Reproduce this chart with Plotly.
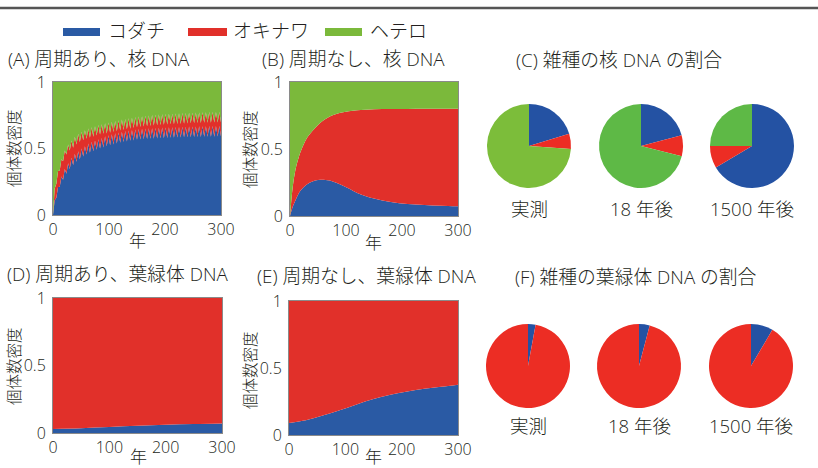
import plotly.graph_objects as go

W, H = 818, 468
FONT = "Open Sans, Noto Sans CJK JP"
TEXT = "#231f20"

# colours
KODACHI = "#2a5aa4"
OKINAWA = "#e1302a"
HETERO = "#7bb93b"
PIE_BLUE = "#2452a3"
PIE_RED = "#ec2d24"
PIE_GREEN_OBS = "#7cbd3a"
PIE_GREEN_SIM = "#5eb946"

SPECIES = ["コダチ", "オキナワ", "ヘテロ"]

# (A) periodic, nuclear DNA (every 3 years)
years_a = list(range(0, 301, 3))
a_kodachi = [
    0, .11, .13, .21, .21, .29, .265, .345, .31, .39,
    .345, .43, .375, .46, .40, .48, .42, .50, .44, .517,
    .455, .537, .468, .55, .48, .561, .49, .57, .50, .579,
    .508, .592, .516, .60, .524, .608, .531, .615, .538, .621,
    .544, .626, .549, .631, .553, .636, .558, .64, .561, .643,
    .565, .646, .567, .648, .569, .65, .571, .652, .573, .653,
    .574, .655, .576, .656, .577, .657, .578, .658, .579, .659,
    .58, .66, .581, .661, .582, .662, .583, .663, .584, .664,
    .585, .665, .585, .665, .586, .666, .586, .667, .587, .667,
    .588, .668, .588, .669, .589, .669, .589, .67, .59, .67,
    .59,
]
a_okinawa = [
    0, .09, .105, .12, .125, .13, .14, .14, .145, .14,
    .14, .13, .13, .128, .13, .13, .128, .125, .122, .121,
    .119, .113, .112, .11, .109, .107, .107, .106, .105, .104,
    .103, .097, .096, .095, .094, .093, .093, .092, .092, .092,
    .091, .092, .091, .091, .092, .091, .091, .091, .093, .094,
    .095, .095, .095, .095, .096, .096, .096, .097, .097, .098,
    .098, .099, .099, .10, .10, .101, .101, .102, .101, .102,
    .102, .102, .102, .102, .102, .103, .102, .103, .103, .103,
    .103, .103, .104, .104, .104, .104, .105, .104, .105, .105,
    .105, .105, .105, .105, .105, .105, .106, .105, .105, .105,
    .105,
]
a_hetero = [
    1, .80, .765, .67, .665, .58, .595, .515, .545, .47,
    .515, .44, .495, .412, .47, .39, .452, .375, .438, .362,
    .426, .35, .42, .34, .411, .332, .403, .324, .395, .317,
    .389, .311, .388, .305, .382, .299, .376, .293, .37, .287,
    .365, .282, .36, .278, .355, .273, .351, .269, .346, .263,
    .34, .259, .338, .257, .335, .254, .333, .251, .33, .249,
    .328, .246, .325, .244, .323, .242, .321, .24, .32, .239,
    .318, .238, .317, .237, .316, .235, .315, .234, .313, .233,
    .312, .232, .311, .231, .31, .23, .309, .229, .308, .228,
    .307, .227, .307, .226, .306, .226, .305, .225, .305, .225,
    .305,
]

# (B) non-periodic, nuclear DNA
years_b = [0, 5, 10, 15, 20, 30, 40, 50, 60, 75, 90, 105, 120, 150, 180, 210, 240, 270, 300]
b_kodachi = [0, .07, .12, .165, .195, .235, .258, .268, .27, .26, .235, .205, .172, .13, .105, .09, .082, .076, .072]
b_okinawa = [0, .15, .23, .265, .295, .345, .377, .412, .445, .49, .535, .577, .617, .666, .693, .709, .718, .724, .728]
b_hetero = [1, .78, .65, .57, .51, .42, .365, .32, .285, .25, .23, .218, .211, .204, .202, .201, .2, .2, .2]

# (D) periodic, chloroplast DNA
years_d = [0, 50, 100, 150, 200, 250, 300]
d_kodachi = [.03, .036, .044, .053, .061, .067, .071]
d_okinawa = [.97, .964, .956, .947, .939, .933, .929]

# (E) non-periodic, chloroplast DNA
years_e = [0, 30, 60, 90, 120, 150, 180, 210, 240, 270, 300]
e_kodachi = [.09, .11, .145, .185, .228, .268, .30, .325, .345, .36, .375]
e_okinawa = [.91, .89, .855, .815, .772, .732, .70, .675, .655, .64, .625]

# (C)/(F) hybrid composition (%), order: コダチ, オキナワ, ヘテロ
pie_captions = ["実測", "18 年後", "1500 年後"]
c_shares = [[20.3, 5.8, 73.9], [20.9, 8.0, 71.1], [66.5, 8.5, 25.0]]
f_shares = [[2.9, 97.1, 0], [4.1, 95.9, 0], [8.5, 91.5, 0]]

x_ticks = [0, 100, 200, 300]
y_ticks = [0, 0.5, 1]
y_ticktext = ["0", "0.5", "1"]

fig = go.Figure()


def add_area(xs, series, colors, xa, ya, group, shape):
    for vals, col in zip(series, colors):
        fig.add_trace(go.Scatter(
            x=xs, y=vals, xaxis=xa, yaxis=ya, stackgroup=group,
            mode="lines", line=dict(width=0, shape=shape),
            fillcolor=col, hoverinfo="skip", showlegend=False))


add_area(years_a, [a_kodachi, a_okinawa, a_hetero], [KODACHI, OKINAWA, HETERO], "x", "y", "a", "linear")
add_area(years_b, [b_kodachi, b_okinawa, b_hetero], [KODACHI, OKINAWA, HETERO], "x2", "y2", "b", "spline")
add_area(years_d, [d_kodachi, d_okinawa], [KODACHI, OKINAWA], "x3", "y3", "d", "spline")
add_area(years_e, [e_kodachi, e_okinawa], [KODACHI, OKINAWA], "x4", "y4", "e", "spline")


def px_x(p):
    return p / W


def px_y(p):
    return 1 - p / H


R = 42
c_centers = [(529, 146), (641, 146), (752, 146)]
f_centers = [(528, 366), (639, 366), (751, 366)]
c_greens = [PIE_GREEN_OBS, PIE_GREEN_SIM, PIE_GREEN_SIM]

for (cx, cy), vals, g in zip(c_centers, c_shares, c_greens):
    fig.add_trace(go.Pie(
        labels=SPECIES, values=vals, sort=False, direction="clockwise", rotation=0,
        marker=dict(colors=[PIE_BLUE, PIE_RED, g], line=dict(width=0)),
        textinfo="none", hoverinfo="skip", showlegend=False, automargin=False,
        domain=dict(x=[px_x(cx - R), px_x(cx + R)], y=[px_y(cy + R), px_y(cy - R)])))
for (cx, cy), vals in zip(f_centers, f_shares):
    fig.add_trace(go.Pie(
        labels=SPECIES, values=vals, sort=False, direction="clockwise", rotation=0,
        marker=dict(colors=[PIE_BLUE, PIE_RED, PIE_GREEN_SIM], line=dict(width=0)),
        textinfo="none", hoverinfo="skip", showlegend=False, automargin=False,
        domain=dict(x=[px_x(cx - R), px_x(cx + R)], y=[px_y(cy + R), px_y(cy - R)])))

# axes boxes in pixels: (left, right, top, bottom)
boxes = {
    "": (53, 221, 82, 215),
    "2": (290, 458, 82, 216),
    "3": (53, 222, 298, 433),
    "4": (289, 458, 301, 435),
}
axis_font = dict(family=FONT, size=16, color=TEXT, weight=300)
layout_axes = {}
for k, (l, r, t, b) in boxes.items():
    layout_axes["xaxis" + k] = dict(
        domain=[px_x(l), px_x(r)], range=[0, 300], anchor="y" + k,
        tickvals=x_ticks, ticks="", showgrid=False, zeroline=False,
        showline=True, mirror=True, linecolor="#8a8a8a", linewidth=1,
        tickfont=axis_font, ticklabelstandoff=0, automargin=False)
    layout_axes["yaxis" + k] = dict(
        domain=[px_y(b), px_y(t)], range=[0, 1], anchor="x" + k,
        tickvals=y_ticks, ticktext=y_ticktext, ticks="", showgrid=False, zeroline=False,
        showline=True, mirror=True, linecolor="#8a8a8a", linewidth=1,
        tickfont=axis_font, ticklabelstandoff=3, automargin=False)

annotations = []


def label(text, x, y, size, xanchor="left", angle=0):
    annotations.append(dict(
        text=text, x=px_x(x), y=px_y(y), xref="paper", yref="paper",
        xanchor=xanchor, yanchor="middle", showarrow=False, textangle=angle,
        font=dict(family=FONT, size=size, color=TEXT, weight=300)))


# panel titles
label("(A) 周期あり、核 DNA", 6, 59, 18.8)
label("(B) 周期なし、核 DNA", 260, 59, 18.8)
label("(C) 雑種の核 DNA の割合", 514, 60, 18.8)
label("(D) 周期あり、葉緑体 DNA", 5, 274, 18.8)
label("(E) 周期なし、葉緑体 DNA", 255, 276, 18.8)
label("(F) 雑種の葉緑体 DNA の割合", 513, 277, 18.8)

# axis titles
for x, y in [(14, 148), (250, 149), (14, 366), (250, 370)]:
    label("個体数密度", x, y, 15.5, xanchor="center", angle=-90)
for x, y in [(137, 241), (373, 242), (138, 456), (373, 456)]:
    label("年", x, y, 17, xanchor="center")

# pie captions
for (cx, _), cap in zip(c_centers, pie_captions):
    label(cap, cx, 208, 18.5, xanchor="center")
for (cx, _), cap in zip(f_centers, pie_captions):
    label(cap, cx, 425, 18.5, xanchor="center")

# legend
shapes = [dict(type="line", xref="paper", yref="paper", x0=0, x1=1,
               y0=px_y(8), y1=px_y(8), line=dict(color="#555555", width=2.5))]
legend_items = [(63, 100, 106, KODACHI, SPECIES[0]),
                (188, 227, 231, OKINAWA, SPECIES[1]),
                (325, 362, 368, HETERO, SPECIES[2])]
for x0, x1, tx, col, name in legend_items:
    shapes.append(dict(type="rect", xref="paper", yref="paper",
                       x0=px_x(x0), x1=px_x(x1), y0=px_y(36), y1=px_y(28),
                       fillcolor=col, line=dict(width=0)))
    label(name, tx, 31, 19)

fig.update_layout(
    width=W, height=H, margin=dict(l=0, r=0, t=0, b=0, pad=0),
    paper_bgcolor="white", plot_bgcolor="white",
    font=dict(family=FONT, color=TEXT),
    annotations=annotations, shapes=shapes, showlegend=False,
    **layout_axes)

fig.write_html("out.html")
